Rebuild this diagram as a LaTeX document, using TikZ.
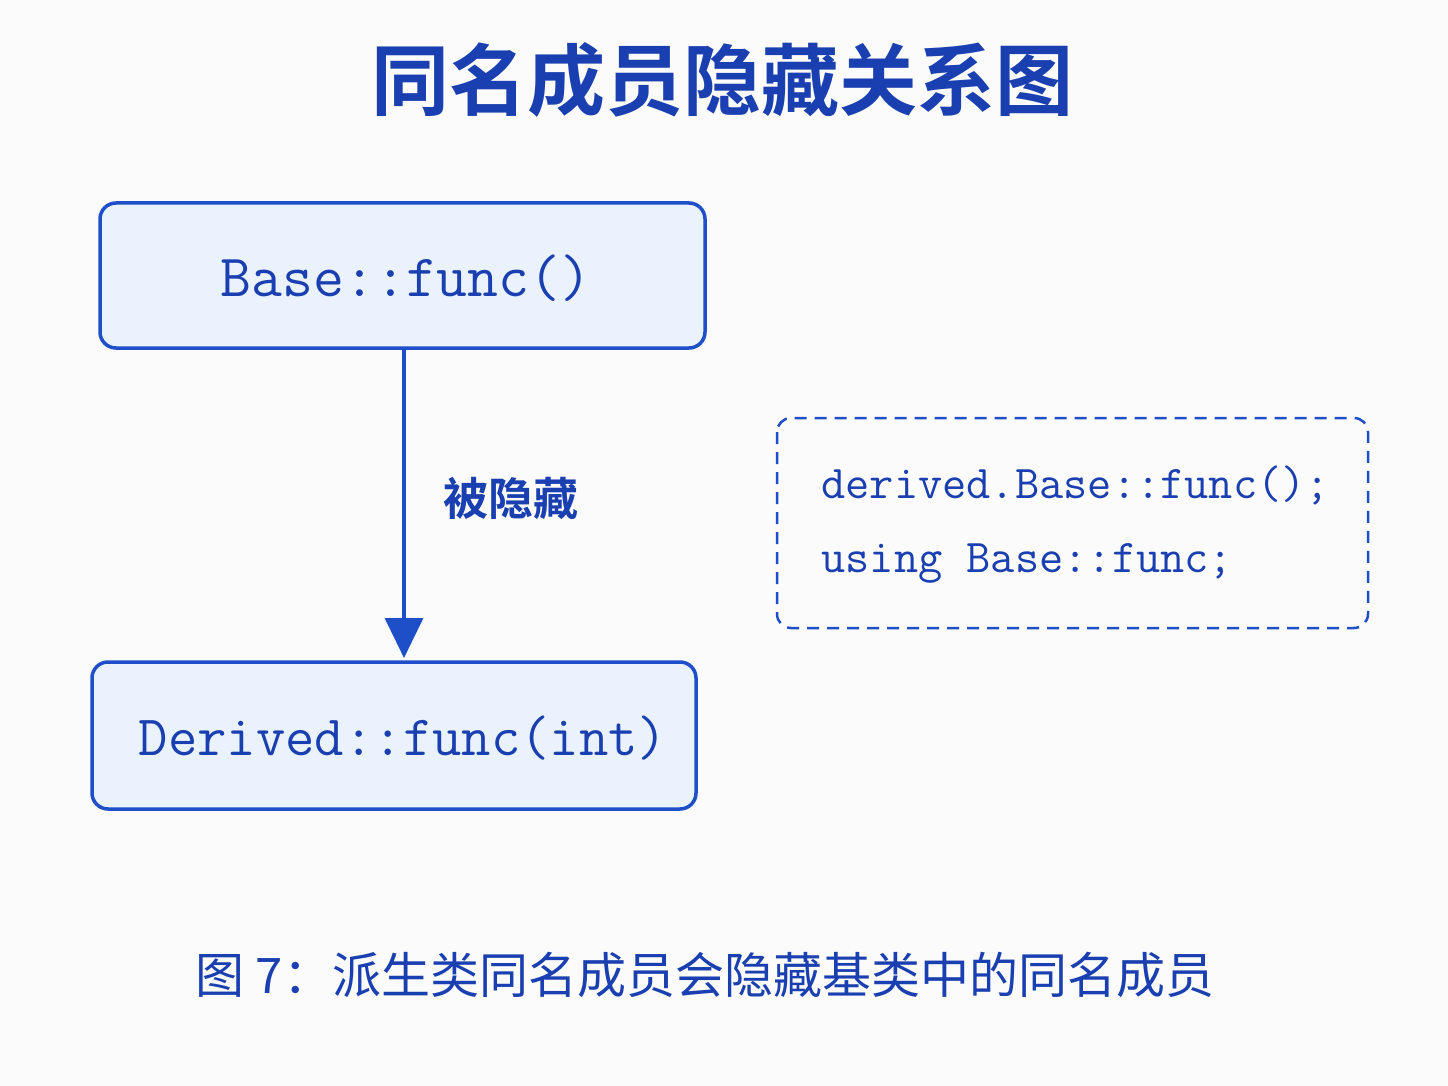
\documentclass[tikz,border=0pt]{standalone}
\usepackage{fontspec}
\newfontfamily\cjk{Noto Sans CJK SC}
\newfontfamily\cjkb{Noto Sans CJK SC Bold}
\usetikzlibrary{arrows.meta}
\definecolor{dblue}{HTML}{1A3FB0}
\definecolor{sblue}{HTML}{1F4FC8}
\definecolor{fblue}{HTML}{EAF2FD}
\definecolor{bg}{HTML}{FBFBFB}
\tikzset{
 box/.style={draw=sblue,line width=3.5pt,fill=fblue,rounded corners=16pt},
 code/.style={font=\ttfamily\fontsize{60}{60}\selectfont,text=dblue},
 small/.style={code,font=\ttfamily\fontsize{47}{47}\selectfont,anchor=west},
}
\begin{document}
\begin{tikzpicture}[x=1pt,y=-1pt]
\fill[bg] (0,0) rectangle (1448,1086);
\useasboundingbox (0,0) rectangle (1448,1086);
\node[font=\cjkb\fontsize{78}{78}\selectfont,text=dblue] (title) at (722,80) {同名成员隐藏关系图};
\draw[box] (100,203) rectangle (705,348);
\node[code] (base) at (406,278) {Base::func()};
\draw[box] (92,662) rectangle (696,809);
\node[code,font=\ttfamily\fontsize{57}{57}\selectfont] (der) at (403,738) {Derived::func(int)};
\coordinate (a1) at (404,350);
\coordinate (a2) at (404,658);
\draw[sblue,line width=3.5pt,-{Triangle[length=40pt,width=38pt]}] (a1) -- (a2);
\node[font=\cjkb\fontsize{45}{45}\selectfont,text=dblue] (lab) at (511,498) {被隐藏};
\draw[sblue,line width=2.5pt,dash pattern=on 12pt off 8pt,rounded corners=14pt] (777,418) rectangle (1368,628);
\node[small] (c1) at (818,485) {derived.Base::func();};
\node[small] (c2) at (818,563) {using Base::func;};
\node[font=\cjk\fontsize{49}{49}\selectfont,text=dblue] (cap) at (705,975) {图 7：派生类同名成员会隐藏基类中的同名成员};
\end{tikzpicture}
\end{document}
